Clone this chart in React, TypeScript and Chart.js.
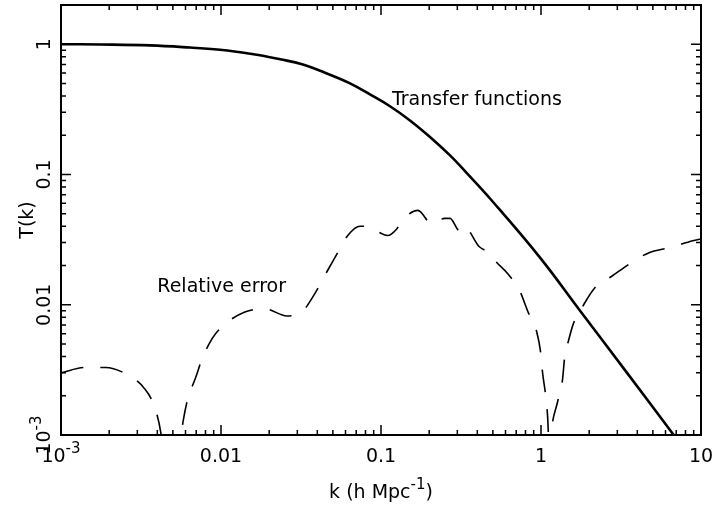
import React, { useEffect, useRef } from "react";
import { Chart, registerables } from "chart.js";

Chart.register(...registerables);

// Transfer function (solid)
const transferK = [0.001, 0.00175, 0.0036, 0.0064, 0.00986, 0.01316, 0.01754, 0.0234, 0.0321, 0.0447, 0.064, 0.0853, 0.1138, 0.1517, 0.2024, 0.27, 0.345, 0.48, 0.986, 1.754, 3.45, 6.59, 10];
const transferT = [1.0, 0.995, 0.979, 0.943, 0.907, 0.868, 0.823, 0.767, 0.702, 0.604, 0.501, 0.412, 0.334, 0.26, 0.194, 0.14, 0.102, 0.0654, 0.023, 0.009, 0.003, 0.00104, 0.00052];

// Relative error (dashed)
const errorK = [0.001, 0.0014, 0.0019, 0.0026, 0.0033, 0.0038, 0.0042, 0.0045, 0.0052, 0.0058, 0.0062, 0.0069, 0.0076, 0.0088, 0.0106, 0.0141, 0.0188, 0.0258, 0.0325, 0.0375, 0.046, 0.053, 0.062, 0.074, 0.083, 0.097, 0.11, 0.125, 0.135, 0.17, 0.207, 0.25, 0.27, 0.31, 0.33, 0.41, 0.48, 0.52, 0.62, 0.74, 0.83, 0.94, 1.0, 1.02, 1.07, 1.1, 1.13, 1.16, 1.27, 1.36, 1.41, 1.48, 1.59, 1.83, 2.16, 2.8, 3.6, 4.7, 6.4, 8.9, 10];
const errorE = [0.003, 0.0033, 0.0033, 0.0029, 0.0023, 0.0017, 0.00105, 0.0005, 0.0005, 0.00128, 0.0019, 0.0027, 0.0038, 0.0055, 0.0071, 0.0088, 0.0093, 0.0082, 0.009, 0.0115, 0.018, 0.0245, 0.034, 0.04, 0.04, 0.036, 0.034, 0.038, 0.044, 0.053, 0.042, 0.046, 0.046, 0.037, 0.04, 0.028, 0.0247, 0.0216, 0.0173, 0.0126, 0.0088, 0.0062, 0.0041, 0.0031, 0.002, 0.00138, 0.0007, 0.00107, 0.0018, 0.0026, 0.0041, 0.0052, 0.0071, 0.0098, 0.0134, 0.0167, 0.0207, 0.025, 0.0275, 0.031, 0.032];

// Axis ticks & labels
const xMajorTicks = [0.001, 0.01, 0.1, 1, 10];
const xTickLabels: [string, string][] = [["10", "-3"], ["0.01", ""], ["0.1", ""], ["1", ""], ["10", ""]];
const yMajorTicks = [0.001, 0.01, 0.1, 1];
const yTickLabels: [string, string][] = [["10", "-3"], ["0.01", ""], ["0.1", ""], ["1", ""]];
const xRange = [0.001, 10];
const yRange = [0.001, 2];

const xTitle: [string, string, string] = ["k (h Mpc", "-1", ")"];
const yTitle = "T(k)";

// Annotations: [text, k, value, font size]
const annotations: [string, number, number, number][] = [
  ["Transfer functions", 0.117, 0.34, 19],
  ["Relative error", 0.004, 0.0126, 19],
];

const FONT = '"DejaVu Sans", sans-serif';

function drawSuper(ctx: CanvasRenderingContext2D, parts: string[], size: number) {
  const supSize = Math.round(size * 0.8);
  const widths: number[] = [];
  let total = 0;
  parts.forEach((p, i) => {
    ctx.font = `${i % 2 === 1 ? supSize : size}px ${FONT}`;
    const w = p ? ctx.measureText(p).width : 0;
    widths.push(w);
    total += w;
  });
  let x = -total / 2;
  parts.forEach((p, i) => {
    if (!p) return;
    const sup = i % 2 === 1;
    ctx.font = `${sup ? supSize : size}px ${FONT}`;
    ctx.textAlign = "left";
    ctx.textBaseline = "alphabetic";
    ctx.fillText(p, x, sup ? -size * 0.45 : 0);
    x += widths[i];
  });
}

const framePlugin = {
  id: "framePlugin",
  afterDatasetsDraw(chart: any) {
    const ctx: CanvasRenderingContext2D = chart.ctx;
    const { left, right, top, bottom } = chart.chartArea;
    const xs = chart.scales.x;
    const ys = chart.scales.y;
    ctx.save();
    ctx.strokeStyle = "#000";
    ctx.fillStyle = "#000";

    ctx.lineWidth = 1.5;
    ctx.beginPath();
    for (let d = -3; d <= 1; d++) {
      for (let m = 1; m <= 9; m++) {
        const v = m * Math.pow(10, d);
        if (v < xRange[0] * 0.999 || v > xRange[1] * 1.001) continue;
        const px = xs.getPixelForValue(v);
        const len = m === 1 ? 10 : 5;
        ctx.moveTo(px, bottom);
        ctx.lineTo(px, bottom - len);
        ctx.moveTo(px, top);
        ctx.lineTo(px, top + len);
      }
    }
    for (let d = -3; d <= 0; d++) {
      for (let m = 1; m <= 9; m++) {
        const v = m * Math.pow(10, d);
        if (v < yRange[0] * 0.999 || v > yRange[1] * 1.001) continue;
        const py = ys.getPixelForValue(v);
        const len = m === 1 ? 10 : 5;
        ctx.moveTo(left, py);
        ctx.lineTo(left + len, py);
        ctx.moveTo(right, py);
        ctx.lineTo(right - len, py);
      }
    }
    ctx.stroke();

    ctx.lineWidth = 2;
    ctx.strokeRect(left, top, right - left, bottom - top);

    xMajorTicks.forEach((v, i) => {
      const px = xs.getPixelForValue(v);
      ctx.save();
      ctx.translate(px, bottom + 27);
      drawSuper(ctx, xTickLabels[i], 19);
      ctx.restore();
    });
    yMajorTicks.forEach((v, i) => {
      const py = ys.getPixelForValue(v);
      ctx.save();
      ctx.translate(left - 11, py);
      ctx.rotate(-Math.PI / 2);
      drawSuper(ctx, yTickLabels[i], 19);
      ctx.restore();
    });

    ctx.save();
    ctx.translate((left + right) / 2, bottom + 63);
    drawSuper(ctx, xTitle, 19);
    ctx.restore();

    ctx.save();
    ctx.translate(left - 28, (top + bottom) / 2);
    ctx.rotate(-Math.PI / 2);
    drawSuper(ctx, [yTitle], 19);
    ctx.restore();

    annotations.forEach(([text, k, v, size]) => {
      ctx.font = `${size}px ${FONT}`;
      ctx.textAlign = "left";
      ctx.textBaseline = "alphabetic";
      ctx.fillText(text, xs.getPixelForValue(k), ys.getPixelForValue(v));
    });
    ctx.restore();
  },
};

export default function App() {
  const ref = useRef<HTMLCanvasElement | null>(null);
  useEffect(() => {
    document.body.style.margin = "0";
    if (!ref.current) return;
    const chart = new Chart(ref.current, {
      type: "line",
      data: {
        datasets: [
          {
            label: "Transfer functions",
            data: transferK.map((k, i) => ({ x: k, y: transferT[i] })),
            borderColor: "#000",
            borderWidth: 2.6,
            pointRadius: 0,
            fill: false,
            tension: 0.4,
            clip: 0,
          } as any,
          {
            label: "Relative error",
            data: errorK.map((k, i) => ({ x: k, y: errorE[i] })),
            borderColor: "#000",
            borderWidth: 1.6,
            borderDash: [23, 17],
            pointRadius: 0,
            fill: false,
            cubicInterpolationMode: "monotone",
            clip: 0,
          } as any,
        ],
      },
      options: {
        animation: false,
        responsive: false,
        devicePixelRatio: 1,
        layout: { padding: { left: 61, right: 12, top: 5, bottom: 79 } },
        plugins: { legend: { display: false }, tooltip: { enabled: false } },
        scales: {
          x: { type: "logarithmic", min: xRange[0], max: xRange[1], display: false },
          y: { type: "logarithmic", min: yRange[0], max: yRange[1], display: false },
        },
      },
      plugins: [framePlugin],
    });
    return () => chart.destroy();
  }, []);
  return <canvas ref={ref} width={713} height={514} style={{ display: "block", background: "#fff" }} />;
}
